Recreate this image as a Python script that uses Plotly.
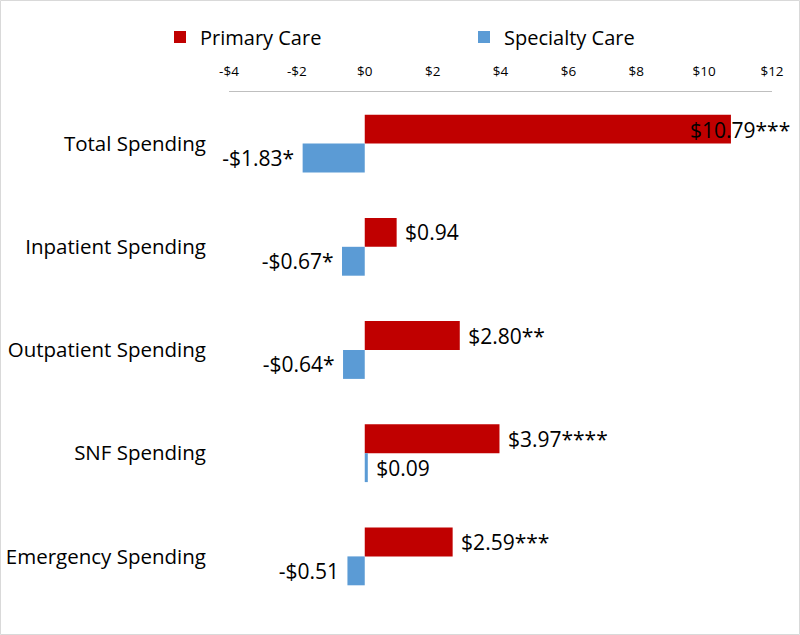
import plotly.graph_objects as go

categories = ["Total Spending", "Inpatient Spending", "Outpatient Spending", "SNF Spending", "Emergency Spending"]
primary = [10.79, 0.94, 2.80, 3.97, 2.59]
specialty = [-1.83, -0.67, -0.64, 0.09, -0.51]
primary_sig = ["***", "", "**", "****", "***"]
specialty_sig = ["*", "*", "*", "", ""]
tick_vals = [-4, -2, 0, 2, 4, 6, 8, 10, 12]
tick_text = ["-$4", "-$2", "$0", "$2", "$4", "$6", "$8", "$10", "$12"]
x_range = [-4, 12]


def fmt(v, s):
    return ("-" if v < 0 else "") + "$" + f"{abs(v):.2f}" + s


def padded(v, s):
    # small gap between bar end and its label
    return ("\u00a0" + fmt(v, s)) if v >= 0 else (fmt(v, s) + "\u00a0")


FONT = "Open Sans, Lato, sans-serif"
RED = "#C00000"
BLUE = "#5B9BD5"
GRAY = "#BFBFBF"
CAT = 20.5
LBL = 21

primary_text = [padded(v, s) for v, s in zip(primary, primary_sig)]
specialty_text = [padded(v, s) for v, s in zip(specialty, specialty_sig)]

# the largest bar's label sits at the plot edge (as in the original)
imax = primary.index(max(primary))
primary_pos = ["outside"] * len(primary)
primary_pos[imax] = "none"

fig = go.Figure()
fig.add_trace(go.Bar(
    y=categories, x=primary, orientation="h", name="Primary Care",
    marker=dict(color=RED, line=dict(width=0)),
    text=primary_text, textposition=primary_pos, cliponaxis=False,
    constraintext="none", textfont=dict(size=LBL, color="black", family=FONT),
))
fig.add_trace(go.Bar(
    y=categories, x=specialty, orientation="h", name="Specialty Care",
    marker=dict(color=BLUE, line=dict(width=0)),
    text=specialty_text, textposition="outside", cliponaxis=False,
    constraintext="none", textfont=dict(size=LBL, color="black", family=FONT),
))

fig.add_annotation(
    x=1, xref="paper", y=categories[imax], yref="y",
    text=fmt(primary[imax], primary_sig[imax]), showarrow=False, xanchor="right",
    xshift=20, yshift=14, font=dict(size=LBL, color="black", family=FONT),
)

n = len(categories)
zero_frac = (0 - x_range[0]) / (x_range[1] - x_range[0])

fig.update_layout(
    width=800, height=635,
    margin=dict(l=229, r=28, t=92, b=27, autoexpand=False),
    paper_bgcolor="white", plot_bgcolor="white",
    font=dict(family=FONT, color="black"),
    barmode="group", bargap=0.44, bargroupgap=0,
    showlegend=True,
    legend=dict(
        orientation="h", x=(160 - 229) / 543, xanchor="left",
        y=(608 - 37) / 516, yanchor="middle",
        font=dict(size=20, family=FONT, color="black"),
        entrywidth=259, entrywidthmode="pixels",
        traceorder="normal",
    ),
    xaxis=dict(
        side="top", range=x_range, tickvals=tick_vals, ticktext=tick_text,
        showgrid=False, zeroline=False, showline=True, linecolor=GRAY, linewidth=1,
        ticks="outside", ticklen=10, tickcolor="rgba(0,0,0,0)",
        tickfont=dict(size=13.5, family=FONT, color="black"),
        fixedrange=True, automargin=False,
    ),
    yaxis=dict(
        type="category", categoryorder="array", categoryarray=categories,
        range=[n - 0.5, -0.5], showgrid=False, zeroline=False, showline=False,
        ticks="", ticklabelstandoff=22, automargin=False,
        tickfont=dict(size=CAT, family=FONT, color="black"),
    ),
    yaxis2=dict(
        overlaying="y", anchor="free", position=zero_frac,
        range=[n - 0.5, -0.5], tickvals=[i - 0.5 for i in range(n + 1)],
        showticklabels=False, ticks="outside", ticklen=7, tickcolor=GRAY,
        showline=True, linecolor=GRAY, linewidth=1, showgrid=False, zeroline=False,
        automargin=False,
    ),
    shapes=[dict(
        type="rect", xref="paper", yref="paper",
        x0=(0.5 - 229) / 543, x1=(799.5 - 229) / 543,
        y0=(608 - 634.5) / 516, y1=(608 - 0.5) / 516,
        line=dict(color="#D9D9D9", width=1), fillcolor="rgba(0,0,0,0)", layer="below",
    )],
)

fig.write_html(
    "out.html",
    config={"displayModeBar": False},
    post_script="document.body.style.margin='0';document.body.style.overflow='hidden';",
)
